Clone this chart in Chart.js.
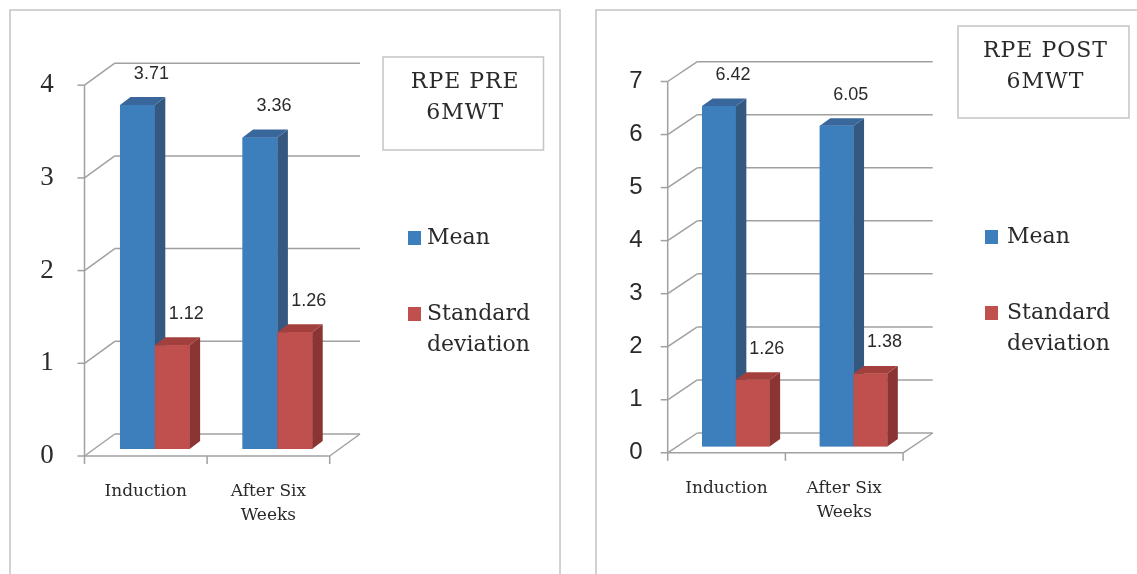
<!DOCTYPE html>
<html>
<head>
<meta charset="utf-8">
<script src="https://cdn.jsdelivr.net/npm/chart.js@4.4.1/dist/chart.umd.min.js"></script>
<style>
  html, body { margin: 0; padding: 0; background: #fff; }
  #wrap { position: relative; width: 1137px; height: 574px; overflow: hidden; background: #fff; }
  canvas { position: absolute; top: 0; }
  #pre { left: 0; }
  #post { left: 570px; }
</style>
</head>
<body>
<div id="wrap">
  <canvas id="pre" width="570" height="574"></canvas>
  <canvas id="post" width="567" height="574"></canvas>
</div>
<script>
// Categories, series and tick labels
const categories = [['Induction'], ['After Six', 'Weeks']];
const seriesNames = [['Mean'], ['Standard', 'deviation']];
const preMean = [3.71, 3.36];
const preSD = [1.12, 1.26];
const postMean = [6.42, 6.05];
const postSD = [1.26, 1.38];
const preTicks = ['0', '1', '2', '3', '4'];
const postTicks = ['0', '1', '2', '3', '4', '5', '6', '7'];
const preTitle = ['RPE PRE', '6MWT'];
const postTitle = ['RPE POST', '6MWT'];

const FRONT = ['#3D7FBC', '#C0504D'];
const SIDE = ['#34587F', '#8A3533'];
const TOP = ['#3A679B', '#A3403D'];
const GRID = '#a0a0a0';
const BOX = '#c4c4c4';
const TEXT = '#2a2a2a';
const SLAB = '"DejaVu Serif", serif';

function poly(ctx, pts, fill) {
  ctx.beginPath();
  ctx.moveTo(pts[0][0], pts[0][1]);
  for (let i = 1; i < pts.length; i++) ctx.lineTo(pts[i][0], pts[i][1]);
  ctx.closePath();
  ctx.fillStyle = fill;
  ctx.fill();
}
function line(ctx, x1, y1, x2, y2) {
  ctx.beginPath();
  ctx.moveTo(x1, y1);
  ctx.lineTo(x2, y2);
  ctx.stroke();
}

const walls = {
  id: 'walls',
  // box walls, floor and gridlines behind the bars
  beforeDatasetsDraw(chart, args, o) {
    const { ctx, chartArea: a } = chart;
    const ys = chart.scales.y;
    const fL = a.left + o.front.dx, fR = a.right + o.front.dx;
    const bL = a.left + o.back.dx, bR = a.right + o.back.dx;
    ctx.save();
    ctx.strokeStyle = GRID;
    ctx.lineWidth = 1.5;
    o.ticks.forEach(t => {
      const yb = ys.getPixelForValue(Number(t));
      const fy = yb + o.front.dy, by = yb + o.back.dy;
      line(ctx, fL, fy, bL, by);
      line(ctx, bL, by, bR, by);
      line(ctx, fL - 7, fy, fL, fy);
    });
    const top = ys.getPixelForValue(ys.max) + o.front.dy;
    const f0 = ys.getPixelForValue(0) + o.front.dy;
    const b0 = ys.getPixelForValue(0) + o.back.dy;
    line(ctx, fL, top, fL, f0);
    line(ctx, fL, f0, fR, f0);
    line(ctx, fR, f0, bR, b0);
    const n = chart.data.labels.length;
    for (let k = 0; k <= n; k++) {
      const x = fL + k * (fR - fL) / n;
      line(ctx, x, f0, x, f0 + 8);
    }
    ctx.restore();
  },
  // solid bars: front, side and top faces, series by series so the
  // standard deviation block covers the mean's side face
  afterDatasetsDraw(chart, args, o) {
    const { ctx } = chart;
    const d = o.depth;
    ctx.save();
    chart.data.datasets.forEach((ds, i) => {
      chart.getDatasetMeta(i).data.forEach(el => {
        const p = el.getProps(['x', 'y', 'base', 'width'], true);
        const x0 = p.x - p.width / 2, x1 = p.x + p.width / 2;
        poly(ctx, [[x0, p.y], [x1, p.y], [x1, p.base], [x0, p.base]], FRONT[i]);
        poly(ctx, [[x1, p.y], [x1 + d.dx, p.y - d.dy], [x1 + d.dx, p.base - d.dy], [x1, p.base]], SIDE[i]);
        poly(ctx, [[x0, p.y], [x1, p.y], [x1 + d.dx, p.y - d.dy], [x0 + d.dx, p.y - d.dy]], TOP[i]);
      });
    });
    ctx.restore();
  },
  // labels, legend, title box and panel frame
  afterDraw(chart, args, o) {
    const { ctx } = chart;
    const ys = chart.scales.y, xs = chart.scales.x;
    ctx.save();
    ctx.fillStyle = TEXT;
    ctx.textAlign = 'center';
    ctx.textBaseline = 'middle';

    ctx.font = o.tickFont;
    o.ticks.forEach(t => {
      ctx.fillText(t, o.tickX, ys.getPixelForValue(Number(t)) + o.front.dy);
    });

    const f0 = ys.getPixelForValue(0) + o.front.dy;
    ctx.font = '17px ' + SLAB;
    categories.forEach((lines, k) => {
      const cx = xs.getPixelForValue(k) + o.front.dx;
      lines.forEach((s, j) => ctx.fillText(s, cx, f0 + 36 + j * 24));
    });

    ctx.font = '18px "Liberation Sans", Arial, sans-serif';
    chart.data.datasets.forEach((ds, i) => {
      chart.getDatasetMeta(i).data.forEach((el, k) => {
        ctx.fillText(ds.data[k].toFixed(2), el.x + 14, el.y - 31);
      });
    });

    ctx.strokeStyle = BOX;
    ctx.lineWidth = 1.5;
    const b = o.box;
    ctx.strokeRect(b.x, b.y, b.w, b.h);
    ctx.font = '22px ' + SLAB;
    ctx.letterSpacing = '1px';
    o.title.forEach((s, j) => ctx.fillText(s, b.x + b.w / 2 + 2, b.ly[j]));
    ctx.letterSpacing = '0px';

    const g = o.legend;
    ctx.textAlign = 'left';
    ctx.font = '22px ' + SLAB;
    seriesNames.forEach((lines, i) => {
      const y0 = g.y[i];
      ctx.fillStyle = FRONT[i];
      ctx.fillRect(g.sqX, y0 - 7, 13, 14);
      ctx.fillStyle = TEXT;
      lines.forEach((s, j) => ctx.fillText(s, g.textX, y0 + j * 31));
    });

    const f = o.frame;
    ctx.strokeStyle = BOX;
    ctx.strokeRect(f.x, f.y, f.w, f.h);
    ctx.restore();
  }
};

function makePanel(id, mean, sd, ticks, title, geo) {
  return new Chart(document.getElementById(id), {
    type: 'bar',
    data: {
      labels: categories,
      datasets: [
        { label: seriesNames[0].join(' '), data: mean, backgroundColor: FRONT[0] },
        { label: seriesNames[1].join(' '), data: sd, backgroundColor: FRONT[1] }
      ]
    },
    options: {
      responsive: false,
      animation: false,
      events: [],
      layout: { padding: geo.padding },
      datasets: { bar: { barPercentage: 1, categoryPercentage: geo.catPct, borderWidth: 0 } },
      scales: {
        x: { display: false },
        y: { display: false, min: 0, max: Number(ticks[ticks.length - 1]) }
      },
      plugins: {
        legend: { display: false },
        tooltip: { enabled: false },
        walls: Object.assign({ ticks, title }, geo)
      }
    },
    plugins: [walls]
  });
}

makePanel('pre', preMean, preSD, preTicks, preTitle, {
  padding: { left: 93.5, right: 231.3, top: 78.2, bottom: 125 },
  catPct: 0.568,
  front: { dx: -9, dy: 7 },
  back: { dx: 21.3, dy: -15 },
  depth: { dx: 10.5, dy: 8 },
  tickFont: '27px "Liberation Serif", serif',
  tickX: 47,
  box: { x: 383, y: 57, w: 160.5, h: 93, ly: [82, 113] },
  legend: { sqX: 408, textX: 427, y: [238, 314] },
  frame: { x: 10, y: 10, w: 550, h: 600 }
});

makePanel('post', postMean, postSD, postTicks, postTitle, {
  padding: { left: 107, right: 224.6, top: 75.3, bottom: 127.4 },
  catPct: 0.574,
  front: { dx: -9.3, dy: 6.2 },
  back: { dx: 20.3, dy: -13.6 },
  depth: { dx: 10.5, dy: 7.5 },
  tickFont: '24px "Liberation Sans", Arial, sans-serif',
  tickX: 66,
  box: { x: 388, y: 26, w: 171, h: 92, ly: [51, 82] },
  legend: { sqX: 415, textX: 437, y: [237, 313] },
  frame: { x: 26, y: 10, w: 600, h: 600 }
});
</script>
</body>
</html>
